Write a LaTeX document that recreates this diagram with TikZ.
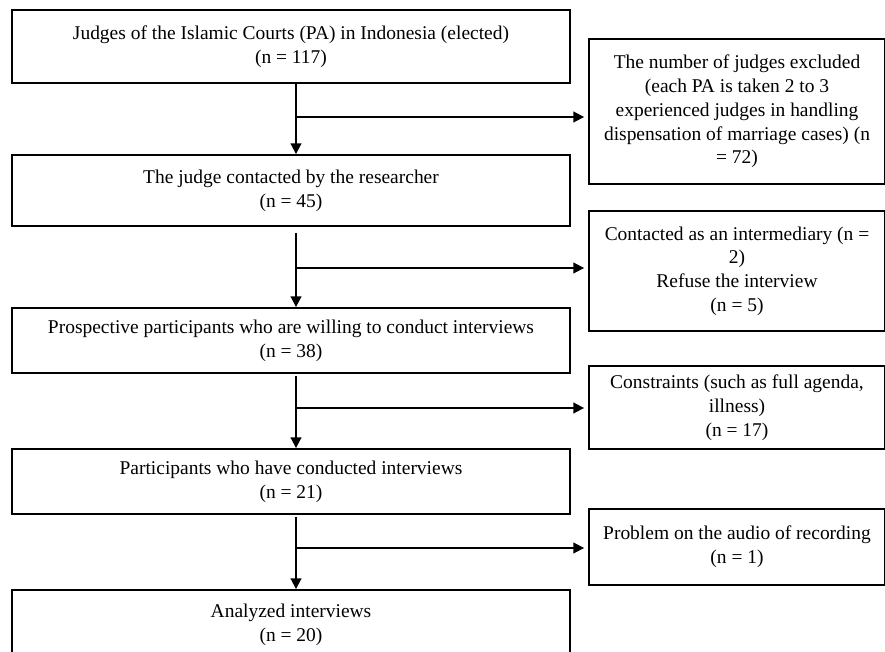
\documentclass[tikz,border=0pt]{standalone}
\usepackage{fontspec}
\setmainfont{Liberation Serif}
\usetikzlibrary{arrows.meta,calc}
\begin{document}
\begin{tikzpicture}[x=0.75pt,y=-0.75pt,
  box/.style={draw,line width=1.4pt,inner sep=0pt,align=center,font=\fontsize{14.6}{17.8}\selectfont},
  arr/.style={line width=1.4pt,-{Triangle[width=8pt,length=8pt]}},
  line/.style={line width=1.4pt}]
\useasboundingbox (0,0) rectangle (885,652);
\clip (0,0) rectangle (885,652);
\node[box,minimum width=558*0.75pt,minimum height=73*0.75pt] (b1) at (291,46.5)
  {Judges of the Islamic Courts (PA) in Indonesia (elected)\\(n = 117)};
\node[box,minimum width=558*0.75pt,minimum height=71*0.75pt] (b2) at (291,190.5)
  {The judge contacted by the researcher\\(n = 45)};
\node[box,minimum width=558*0.75pt,minimum height=65*0.75pt] (b3) at (291,340.5)
  {Prospective participants who are willing to conduct interviews\\(n = 38)};
\node[box,minimum width=558*0.75pt,minimum height=65*0.75pt] (b4) at (291,481.5)
  {Participants who have conducted interviews\\(n = 21)};
\node[box,minimum width=558*0.75pt,minimum height=70*0.75pt] (b5) at (291,625)
  {Analyzed interviews\\(n = 20)};
\node[box,minimum width=296*0.75pt,minimum height=145*0.75pt] (r1) at (737,111.5)
  {The number of judges excluded\\(each PA is taken 2 to 3\\experienced judges in handling\\dispensation of marriage cases) (n\\= 72)};
\node[box,minimum width=296*0.75pt,minimum height=120*0.75pt] (r2) at (737,271)
  {Contacted as an intermediary (n =\\2)\\Refuse the interview\\(n = 5)};
\node[box,minimum width=296*0.75pt,minimum height=83*0.75pt] (r3) at (737,407.5)
  {Constraints (such as full agenda,\\illness)\\(n = 17)};
\node[box,minimum width=296*0.75pt,minimum height=76*0.75pt] (r4) at (737,547)
  {Problem on the audio of recording\\(n = 1)};
\coordinate (x) at (296,0);
\coordinate (j1) at (296,117);
\coordinate (j2) at (296,268);
\coordinate (j3) at (296,408);
\coordinate (j4) at (296,548);
\draw[arr] (b1.south -| x) -- (b2.north -| x);
\draw[arr,shorten <=4.5pt] (b2.south -| x) -- (b3.north -| x);
\draw[arr,shorten <=1.5pt] (b3.south -| x) -- (b4.north -| x);
\draw[arr,shorten <=1.5pt] (b4.south -| x) -- (b5.north -| x);
\draw[arr,shorten >=3pt] (j1) -- (j1 -| r1.west);
\draw[arr,shorten >=3pt] (j2) -- (j2 -| r2.west);
\draw[arr,shorten >=3pt] (j3) -- (j3 -| r3.west);
\draw[arr,shorten >=3pt] (j4) -- (j4 -| r4.west);
\end{tikzpicture}
\end{document}
